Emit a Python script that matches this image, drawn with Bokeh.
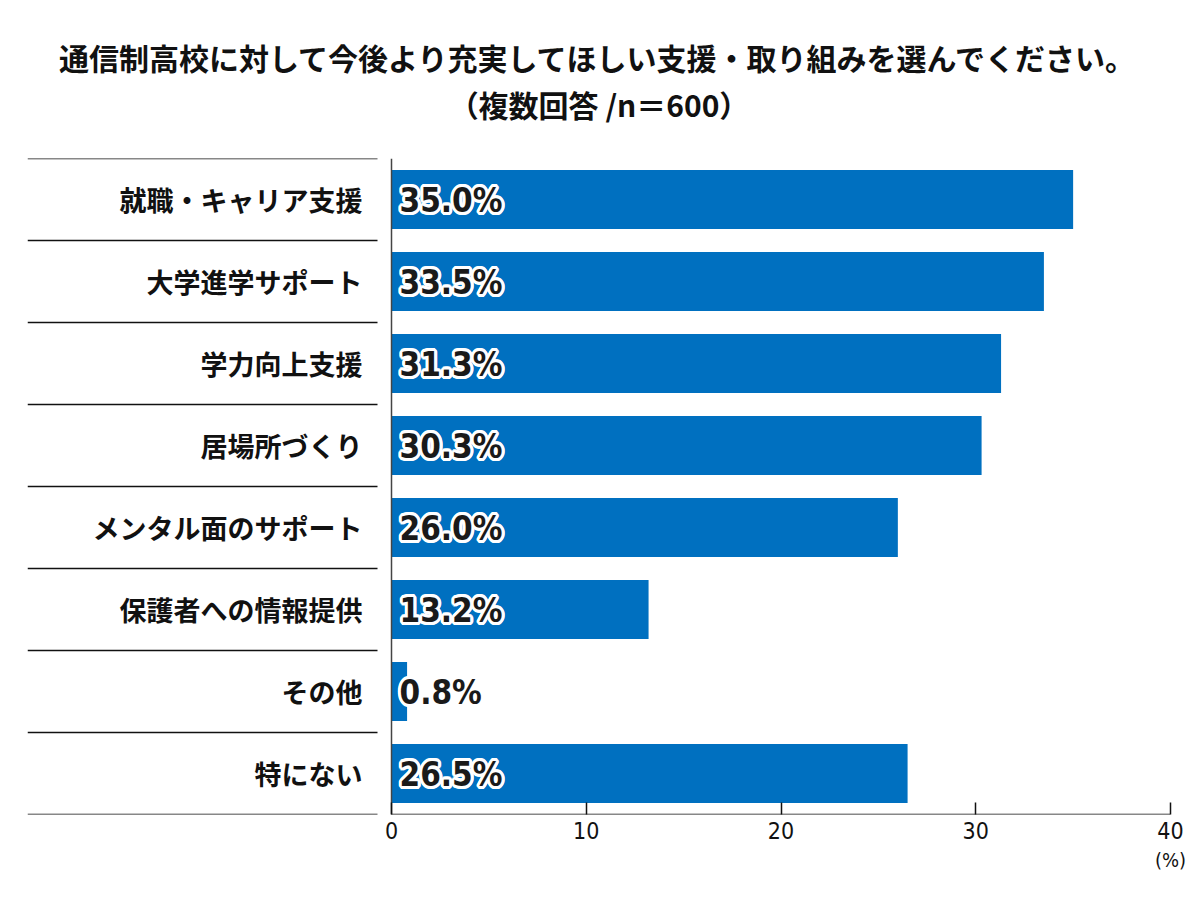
from bokeh.plotting import figure
from bokeh.models import Range1d, FixedTicker, LinearAxis, Title, ColumnDataSource
from bokeh.core.properties import value
from bokeh.embed import file_html
from bokeh.resources import INLINE
import math

title_line1 = "通信制高校に対して今後より充実してほしい支援・取り組みを選んでください。"
title_line2 = "（複数回答 /n＝600）"
categories = ["就職・キャリア支援", "大学進学サポート", "学力向上支援", "居場所づくり",
              "メンタル面のサポート", "保護者への情報提供", "その他", "特にない"]
values = [35.0, 33.5, 31.3, 30.3, 26.0, 13.2, 0.8, 26.5]
x_ticks = [0, 10, 20, 30, 40]
unit_label = "(%)"

# layout constants (pixels)
W, H = 1200, 900
FL, FR, FT, FB = 27, 1170, 158, 814
ZERO_PX = 391
XMAX = 40
ppu = (FR - ZERO_PX) / XMAX
xstart = -(ZERO_PX - FL) / ppu
n = len(categories)

p = figure(width=W, height=H, output_backend="svg", toolbar_location=None,
           x_range=Range1d(xstart, XMAX), y_range=Range1d(0, n),
           min_border_left=FL, min_border_right=W - FR, min_border_top=FT,
           min_border_bottom=H - FB, y_axis_type=None)
p.outline_line_color = None
p.xgrid.grid_line_color = None
p.ygrid.grid_line_color = None
p.background_fill_color = "white"
p.border_fill_color = "white"

ys = [n - 0.5 - i for i in range(n)]
labels = [f"{v:.1f}%" for v in values]
src = ColumnDataSource(dict(y=ys, v=values, cat=categories, lab=labels,
                            zero=[0] * n))

# bars
p.hbar(y="y", left="zero", right="v", height=0.72, source=src,
       fill_color="#0070c0", line_color=None)

# separators (left part)
bounds = list(range(n + 1))
sep_end = -(ZERO_PX - 377) / ppu
p.segment(x0=[xstart] * len(bounds), x1=[sep_end] * len(bounds), y0=bounds, y1=bounds,
          line_color="#111111", line_width=1.5)
# axis lines
p.segment(x0=[0], x1=[0], y0=[0], y1=[n], line_color="#444444", line_width=1.5)
p.segment(x0=[0], x1=[XMAX], y0=[0], y1=[0], line_color="#111111", line_width=1.5)

# category labels
p.text(x="zero", y="y", text="cat", source=src, x_offset=-29,
       text_align="right", text_baseline="middle", text_font=value("Noto Sans CJK JP"),
       text_font_style="bold", text_font_size="27px", text_color="#111111")

# value labels with white outline
vfont = value("DejaVu Sans Condensed")
r = 3
for k in range(16):
    a = 2 * math.pi * k / 16
    p.text(x="zero", y="y", text="lab", source=src,
           x_offset=8 + r * math.cos(a), y_offset=1 + r * math.sin(a),
           text_align="left", text_baseline="middle", text_font=vfont,
           text_font_style="bold", text_font_size="33px", text_color="white")
p.text(x="zero", y="y", text="lab", source=src, x_offset=8, y_offset=1,
       text_align="left", text_baseline="middle", text_font=vfont,
       text_font_style="bold", text_font_size="33px", text_color="#1a1a1a")

# x axis
ax = p.xaxis[0]
ax.ticker = FixedTicker(ticks=x_ticks)
ax.axis_line_color = None
ax.major_tick_in = 12
ax.major_tick_out = 0
ax.major_tick_line_color = "#111111"
ax.major_tick_line_width = 1.5
ax.minor_tick_line_color = None
ax.major_label_text_font = "DejaVu Sans Condensed"
ax.major_label_text_font_size = "23px"
ax.major_label_text_color = "#111111"
ax.major_label_standoff = 7

# unit label as a second axis below
ax2 = LinearAxis(ticker=FixedTicker(ticks=[XMAX]), major_label_overrides={XMAX: unit_label},
                 axis_line_color=None, major_tick_line_color=None,
                 minor_tick_line_color=None, major_label_standoff=0,
                 major_label_text_font="DejaVu Sans Condensed",
                 major_label_text_font_size="20px", major_label_text_color="#111111")
p.add_layout(ax2, "below")

# second title line as the label of an empty axis above the frame
ax_top = LinearAxis(ticker=FixedTicker(ticks=[]), axis_line_color=None,
                    major_tick_line_color=None, minor_tick_line_color=None,
                    major_tick_out=0, major_tick_in=0,
                    axis_label=title_line2, axis_label_standoff=33,
                    axis_label_text_font="Noto Sans CJK JP",
                    axis_label_text_font_style="bold",
                    axis_label_text_font_size="30px",
                    axis_label_text_color="#111111")
p.add_layout(ax_top, "above")
p.add_layout(Title(text=title_line1, align="center", text_font="Noto Sans CJK JP",
                   text_font_style="bold", text_font_size="30px", text_color="#111111",
                   standoff=0), "above")

open("out.html", "w").write(file_html(p, INLINE))
